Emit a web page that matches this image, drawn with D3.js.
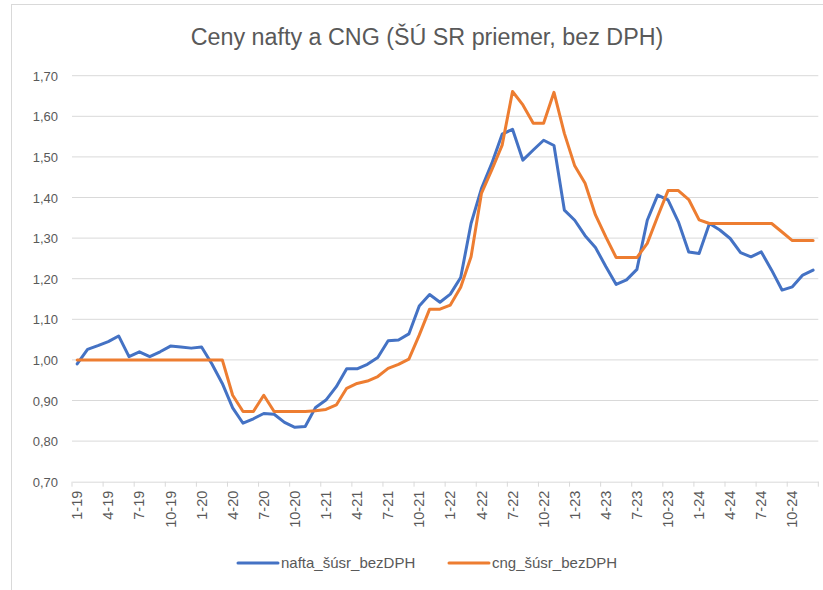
<!DOCTYPE html>
<html>
<head>
<meta charset="utf-8">
<script src="https://cdn.jsdelivr.net/npm/d3@7"></script>
<style>
  body { margin: 0; background: #fff; }
  svg { display: block; font-family: "Liberation Sans", Arial, sans-serif; }
</style>
</head>
<body>
<svg id="chart" width="823" height="590"></svg>
<script>
// kategórie: mesiace 1-19 .. 12-24
const years = [19, 20, 21, 22, 23, 24];
const months = [1, 2, 3, 4, 5, 6, 7, 8, 9, 10, 11, 12];
const categories = years.flatMap(y => months.map(m => `${m}-${y}`));

const nafta = [
  0.99, 1.026, 1.035, 1.045, 1.059, 1.008, 1.020, 1.008, 1.020, 1.034, 1.032, 1.029,
  1.032, 0.99, 0.942, 0.882, 0.844, 0.855, 0.868, 0.866, 0.846, 0.834, 0.836, 0.883,
  0.901, 0.934, 0.978, 0.978, 0.989, 1.006, 1.047, 1.049, 1.064, 1.133, 1.161, 1.142,
  1.162, 1.203, 1.336, 1.422, 1.484, 1.556, 1.568, 1.492, 1.517, 1.541, 1.528, 1.369,
  1.344, 1.306, 1.277, 1.230, 1.186, 1.197, 1.223, 1.344, 1.406, 1.394, 1.340, 1.266,
  1.262, 1.336, 1.320, 1.299, 1.264, 1.254, 1.266, 1.221, 1.172, 1.180, 1.209, 1.221
];

const cng = [
  1.00, 1.00, 1.00, 1.00, 1.00, 1.00, 1.00, 1.00, 1.00, 1.00, 1.00, 1.00,
  1.00, 1.00, 1.00, 0.913, 0.873, 0.873, 0.913, 0.873, 0.873, 0.873, 0.873, 0.875,
  0.878, 0.889, 0.930, 0.942, 0.948, 0.959, 0.979, 0.989, 1.002, 1.061, 1.125, 1.125,
  1.135, 1.179, 1.254, 1.410, 1.468, 1.529, 1.661, 1.628, 1.583, 1.583, 1.659, 1.558,
  1.478, 1.435, 1.357, 1.303, 1.252, 1.252, 1.252, 1.287, 1.353, 1.417, 1.417, 1.395,
  1.345, 1.336, 1.336, 1.336, 1.336, 1.336, 1.336, 1.336, 1.315, 1.294, 1.294, 1.294
];

const yTicks = [0.7, 0.8, 0.9, 1.0, 1.1, 1.2, 1.3, 1.4, 1.5, 1.6, 1.7];
const series = [
  { name: "nafta_šúsr_bezDPH", values: nafta, color: "#4472C4" },
  { name: "cng_šúsr_bezDPH", values: cng, color: "#ED7D31" }
];

const svg = d3.select("#chart");
const plotLeft = 72, plotRight = 818.3, plotTop = 75.7, plotBottom = 481.7;

const x = d3.scaleBand().domain(categories).range([plotLeft, plotRight]).padding(0);
const y = d3.scaleLinear().domain([0.7, 1.7]).range([plotBottom, plotTop]);

// rám grafu (pravý a dolný okraj sú mimo obrázka)
svg.append("rect")
  .attr("x", 11.5).attr("y", 4.5)
  .attr("width", 830).attr("height", 600)
  .attr("fill", "none")
  .attr("stroke", "#d9d9d9").attr("stroke-width", 1);

// titulok
svg.append("text")
  .attr("x", 427).attr("y", 45)
  .attr("text-anchor", "middle")
  .attr("font-size", 23.3)
  .attr("fill", "#595959")
  .text("Ceny nafty a CNG (ŠÚ SR priemer, bez DPH)");

// mriežka + popisy osi Y
const fmt = v => d3.format(".2f")(v).replace(".", ",");
svg.append("g").selectAll("line")
  .data(yTicks.filter(d => d > 0.7))
  .enter().append("line")
  .attr("x1", plotLeft).attr("x2", plotRight)
  .attr("y1", d => y(d)).attr("y2", d => y(d))
  .attr("stroke", "#d9d9d9").attr("stroke-width", 1);

svg.append("g").selectAll("text")
  .data(yTicks)
  .enter().append("text")
  .attr("x", 58).attr("y", d => y(d) + 5)
  .attr("text-anchor", "end")
  .attr("font-size", 13)
  .attr("fill", "#595959")
  .text(fmt);

// os X
const xAxis = d3.axisBottom(x)
  .tickValues(categories.filter((d, i) => i % 3 === 0))
  .tickSize(0);
const gx = svg.append("g").attr("transform", `translate(0,${plotBottom})`).call(xAxis);
gx.select(".domain").attr("stroke", "#d9d9d9");
gx.selectAll("text")
  .attr("transform", "rotate(-90)")
  .attr("text-anchor", "end")
  .attr("x", -9).attr("y", 0).attr("dy", "0.35em")
  .attr("font-size", 14.5)
  .attr("font-family", "Liberation Sans, Arial, sans-serif")
  .attr("fill", "#595959");
// značky medzi kategóriami
const tickPos = categories.filter((d, i) => i % 3 === 0).map(d => x(d)).concat([plotRight]);
svg.append("g").selectAll("line")
  .data(tickPos)
  .enter().append("line")
  .attr("x1", d => d).attr("x2", d => d)
  .attr("y1", plotBottom).attr("y2", plotBottom + 5)
  .attr("stroke", "#d9d9d9");

// čiary
const line = d3.line()
  .x((d, i) => x(categories[i]) + x.bandwidth() / 2)
  .y(d => y(d));

svg.append("g").selectAll("path")
  .data(series)
  .enter().append("path")
  .attr("d", d => line(d.values))
  .attr("fill", "none")
  .attr("stroke", d => d.color)
  .attr("stroke-width", 3)
  .attr("stroke-linejoin", "round")
  .attr("stroke-linecap", "round");

// legenda
const legendX = [238, 449];
const lg = svg.append("g").selectAll("g")
  .data(series)
  .enter().append("g")
  .attr("transform", (d, i) => `translate(${legendX[i]},563)`);
lg.append("line")
  .attr("x1", 0).attr("x2", 40)
  .attr("stroke", d => d.color).attr("stroke-width", 3)
  .attr("stroke-linecap", "round");
lg.append("text")
  .attr("x", 43).attr("y", 5)
  .attr("font-size", 15)
  .attr("fill", "#595959")
  .text(d => d.name);
</script>
</body>
</html>
